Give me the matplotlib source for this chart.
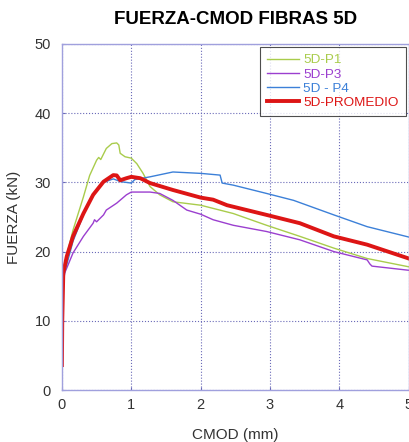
import matplotlib
matplotlib.use("Agg")
import matplotlib.pyplot as plt

plt.rcParams['font.family'] = ['Liberation Sans', 'DejaVu Sans']

# curvas (CMOD mm, fuerza kN)
cmod_p1 = [0.0, 0.01, 0.04, 0.16, 0.31, 0.40, 0.50, 0.53, 0.56, 0.64, 0.72, 0.79, 0.82, 0.84, 0.91, 1.0,
           1.08, 1.17, 1.27, 1.41, 1.6, 2.0, 2.47, 2.95, 3.43, 3.92, 4.4, 5.0]
fuerza_p1 = [4.0, 15.5, 18.3, 23.1, 27.9, 31.0, 33.2, 33.6, 33.3, 34.9, 35.6, 35.7, 35.4, 34.2, 33.7, 33.5,
             32.7, 31.3, 29.4, 28.2, 27.2, 26.7, 25.5, 23.8, 22.2, 20.5, 19.0, 17.8]

cmod_p3 = [0.0, 0.01, 0.04, 0.16, 0.31, 0.45, 0.47, 0.50, 0.60, 0.64, 0.79, 0.93, 1.0, 1.27, 1.41, 1.6,
           1.8, 2.0, 2.18, 2.47, 2.95, 3.43, 3.92, 4.4, 4.44, 4.47, 5.0]
fuerza_p3 = [4.0, 14.5, 16.9, 19.8, 22.2, 24.1, 24.6, 24.3, 25.3, 26.0, 27.0, 28.2, 28.6, 28.6, 28.4, 27.4,
             26.0, 25.4, 24.6, 23.8, 22.9, 21.7, 20.0, 18.8, 18.2, 17.9, 17.3]

cmod_p4 = [0.0, 0.01, 0.04, 0.16, 0.31, 0.45, 0.60, 0.74, 0.85, 1.0, 1.05, 1.27, 1.6, 2.0, 2.28, 2.31,
           2.47, 2.95, 3.34, 3.92, 4.4, 5.0]
fuerza_p4 = [4.0, 15.0, 17.0, 21.5, 25.3, 28.2, 30.0, 30.5, 30.1, 29.9, 30.4, 30.8, 31.5, 31.3, 31.05, 29.9,
             29.6, 28.4, 27.4, 25.3, 23.6, 22.1]

cmod_prom = [0.0, 0.005, 0.02, 0.07, 0.16, 0.31, 0.45, 0.60, 0.74, 0.79, 0.84, 0.93, 1.0, 1.13, 1.27,
             1.6, 2.0, 2.18, 2.38, 2.95, 3.43, 3.92, 4.4, 5.0]
fuerza_prom = [3.6, 10.0, 16.9, 19.3, 22.2, 25.5, 28.2, 30.1, 31.05, 31.0, 30.3, 30.6, 30.8, 30.6, 29.9,
               28.9, 27.8, 27.5, 26.7, 25.3, 24.1, 22.2, 21.0, 19.0]

fig = plt.figure(figsize=(4.1, 4.42), dpi=100)
ax = fig.add_axes([0.151, 0.1176, 0.846, 0.783])

ax.plot(cmod_p1, fuerza_p1, color='#a9cc4c', lw=1.0, label='5D-P1')
ax.plot(cmod_p3, fuerza_p3, color='#9b3fcf', lw=1.0, label='5D-P3')
ax.plot(cmod_p4, fuerza_p4, color='#3c80d8', lw=1.0, label='5D - P4')
ax.plot(cmod_prom, fuerza_prom, color='#dd1515', lw=2.8, label='5D-PROMEDIO')

ax.set_xlim(0, 5)
ax.set_ylim(0, 50)
ax.set_xticks([0, 1, 2, 3, 4, 5])
ax.set_yticks([0, 10, 20, 30, 40, 50])
ax.grid(True, color='#6a6ab8', linestyle=':', linewidth=0.8)
for s in ax.spines.values():
    s.set_color('#a0a0dd')
    s.set_linewidth(1.0)
ax.tick_params(direction='in', length=2, color='#6a6ab8', labelsize=10.5, labelcolor='#333333')
ax.tick_params(axis='x', pad=6)
ax.tick_params(axis='y', pad=8)

ax.set_title('FUERZA-CMOD FIBRAS 5D', fontsize=13.5, fontweight='bold', pad=14)
ax.set_xlabel('CMOD (mm)', fontsize=11, color='#333333', labelpad=11)
ax.set_ylabel('FUERZA (kN)', fontsize=11, color='#333333', labelpad=10)

leg = ax.legend(loc='upper right', fontsize=9.7, frameon=True, fancybox=False, borderpad=0.55,
                labelspacing=0.12, handlelength=2.4, handletextpad=0.3, borderaxespad=0.2)
leg.get_frame().set_edgecolor('#222222')
leg.get_frame().set_linewidth(0.8)
for line, text in zip(leg.get_lines(), leg.get_texts()):
    text.set_color(line.get_color())

fig.savefig('out.png', dpi=100)
